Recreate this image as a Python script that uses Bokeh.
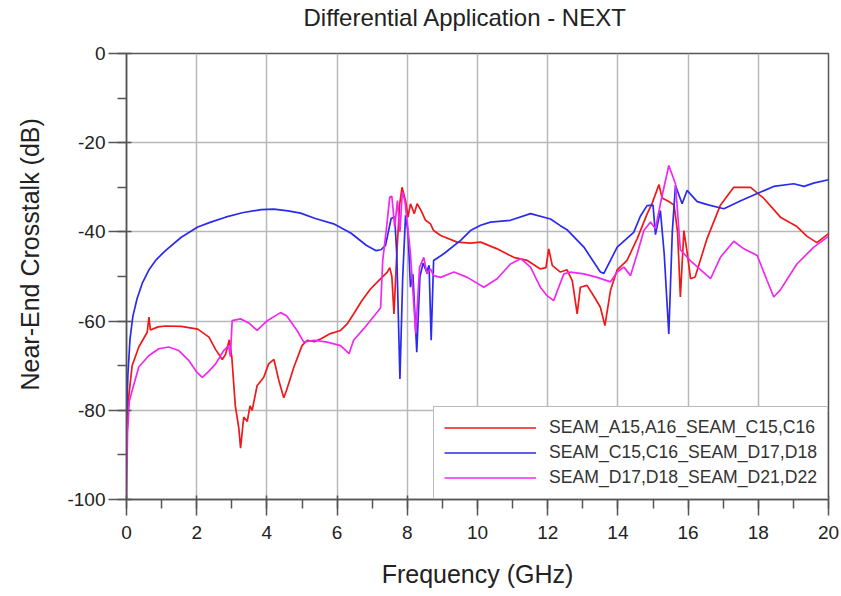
from bokeh.plotting import figure
from bokeh.models import Range1d, SingleIntervalTicker, CustomJSTickFormatter, Title
from bokeh.embed import file_html
from bokeh.resources import INLINE

labels = ["SEAM_A15,A16_SEAM_C15,C16", "SEAM_C15,C16_SEAM_D17,D18", "SEAM_D17,D18_SEAM_D21,D22"]

red_f = [0, 0.05, 0.16, 0.35, 0.59, 0.64, 0.68, 0.9, 1.11, 1.56, 2.03, 2.35, 2.54, 2.73, 2.82, 2.93,
         3.0, 3.1, 3.2, 3.25, 3.34, 3.44, 3.52, 3.58, 3.72, 3.91, 4.05, 4.2, 4.34, 4.48, 4.56, 4.77,
         5.0, 5.15, 5.35, 5.53, 5.81, 6.1, 6.3, 6.47, 6.7, 6.95, 7.2, 7.43, 7.5, 7.56, 7.62, 7.7,
         7.78, 7.85, 7.95, 8.02, 8.09, 8.2, 8.28, 8.38, 8.52, 8.66, 8.75, 8.95, 9.42, 9.8, 10.09,
         10.56, 11.03, 11.42, 11.79, 11.95, 12.03, 12.13, 12.36, 12.55, 12.7, 12.84, 12.93, 13.12,
         13.36, 13.5, 13.63, 13.79, 13.98, 14.26, 14.55, 14.83, 14.98, 15.17, 15.26, 15.45, 15.6,
         15.7, 15.78, 15.88, 15.98, 16.07, 16.2, 16.54, 16.92, 17.3, 17.78, 18.16, 18.63, 19.1,
         19.39, 19.67, 20.0]
red_db = [-88, -78, -70, -65.8, -62.5, -59.1, -62, -61.3, -61.1, -61.2, -61.8, -63.6, -66.4, -68.6,
          -67.5, -64.2, -68, -79, -84, -88.5, -81.5, -82.5, -79, -80, -74.5, -72.6, -69.6, -68.6,
          -73.3, -77.2, -75.5, -70.3, -65.5, -64.3, -64.6, -64, -62.8, -62.1, -60.5, -58.4, -55.5,
          -52.8, -50.8, -49, -48, -50, -58.4, -45, -34, -30, -33, -36.7, -33.7, -35.9, -33.7, -35,
          -37.4, -38.2, -39.7, -40.8, -42.3, -42.5, -42.3, -43.8, -45.7, -46.4, -48.3, -48, -43.8,
          -47.5, -49, -48.5, -50.9, -58.4, -52.4, -52, -55, -56.9, -61, -53.1, -48.5, -46.4, -41.5,
          -36, -33.5, -29.4, -32.4, -33.2, -34, -40, -54.6, -39.7, -45, -50.5, -50.1, -41.5, -34,
          -30, -30, -32.5, -36.7, -38.8, -41, -42.4, -40.4]

blue_f = [0, 0.04, 0.1, 0.18, 0.3, 0.45, 0.64, 0.85, 1.11, 1.56, 2.03, 2.4, 2.82, 3.3, 3.84, 4.2,
          4.6, 4.96, 5.38, 5.9, 6.4, 6.83, 7.11, 7.25, 7.38, 7.46, 7.54, 7.64, 7.7, 7.79, 7.87, 7.95,
          8.02, 8.09, 8.16, 8.27, 8.36, 8.45, 8.55, 8.62, 8.68, 8.75, 9.04, 9.52, 9.8, 10.09, 10.37,
          10.94, 11.51, 12.08, 12.36, 12.55, 13.03, 13.5, 13.6, 13.98, 14.45, 14.64, 14.83, 15.0,
          15.07, 15.21, 15.32, 15.45, 15.55, 15.64, 15.83, 15.97, 16.26, 16.6, 17.02, 17.5, 17.97,
          18.44, 19.01, 19.3, 19.6, 20.0]
blue_db = [-82, -72, -64, -59, -55, -51.5, -48.5, -46.2, -44.2, -41.2, -38.9, -37.8, -36.7, -35.7,
           -35.0, -34.9, -35.3, -35.8, -37, -38.2, -40.3, -43, -44.2, -44, -43, -40, -37, -36.6, -45,
           -73, -50, -36.3, -40, -52.4, -49.5, -67, -50, -47, -49, -47.5, -64.3, -46.4, -44.9, -41.9,
           -39.7, -38.5, -37.8, -37.4, -35.9, -37.1, -38.6, -39.5, -43.4, -49.0, -49.3, -43.4, -40.1,
           -36.5, -34.1, -34, -40.6, -35.2, -45, -62.9, -40, -29.6, -33.7, -30.7, -33.2, -34, -34.8,
           -33, -31.4, -29.8, -29.2, -29.8, -29, -28.3]

mag_f = [0, 0.03, 0.08, 0.16, 0.35, 0.64, 0.92, 1.2, 1.49, 1.77, 2.01, 2.16, 2.35, 2.54, 2.77, 2.91,
         2.96, 3.01, 3.25, 3.5, 3.72, 4.01, 4.39, 4.56, 4.86, 5.05, 5.34, 5.72, 6.1, 6.34, 6.47,
         6.76, 7.14, 7.24, 7.3, 7.41, 7.5, 7.56, 7.64, 7.72, 7.79, 7.86, 7.93, 8.0, 8.09, 8.24,
         8.35, 8.47, 8.56, 8.66, 8.75, 8.95, 9.33, 9.71, 10.18, 10.56, 10.94, 11.23, 11.51, 11.79,
         11.98, 12.17, 12.3, 12.46, 12.65, 13.03, 13.41, 13.79, 13.98, 14.17, 14.36, 14.55, 14.74,
         14.93, 15.07, 15.21, 15.45, 15.64, 15.78, 16.07, 16.64, 16.92, 17.3, 17.59, 17.97, 18.25,
         18.44, 18.63, 19.1, 19.58, 20.0]
mag_db = [-100, -85, -78, -75.6, -70.3, -67.7, -66.2, -65.8, -66.6, -68.8, -71.5, -72.6, -71.2,
          -69.6, -66.6, -65.5, -68, -59.9, -59.5, -60.5, -62.1, -59.9, -58.1, -58.8, -62.1, -64.7,
          -64.3, -64.7, -65.5, -67.3, -64.3, -61.7, -58, -57, -46.4, -38.9, -32.2, -32, -38.9, -33,
          -40, -31, -33, -38, -44.9, -62.8, -47.9, -45.7, -49.4, -48.3, -49.8, -50.2, -49, -50.2,
          -52.4, -50.5, -47.2, -46, -47.9, -52.4, -54.3, -55.4, -52.7, -49.4, -49, -49.4, -50.2,
          -51.2, -49, -47.9, -49.8, -44.9, -39.7, -37.8, -39.3, -33.7, -25.1, -29.2, -44, -46.5,
          -50.5, -45.7, -42.1, -43.8, -45.3, -50.9, -54.6, -53, -47.2, -43.4, -41]

TITLE = "Differential Application - NEXT"
XLABEL = "Frequency (GHz)"
YLABEL = "Near-End Crosstalk (dB)"

FONT = "Liberation Sans"
TXT = "#222222"

p = figure(width=841, height=596, output_backend="svg", toolbar_location=None,
           x_range=Range1d(0, 20), y_range=Range1d(-100, 0), title_location=None,
           min_border_left=126, min_border_right=13, min_border_top=53, min_border_bottom=97)
p.frame_width = 702
p.frame_height = 446

# spacer + title above the frame
p.add_layout(Title(text=" ", text_font_size="1px", standoff=20), "above")
p.add_layout(Title(text=TITLE, text_font=FONT, text_font_size="24px", text_font_style="normal",
                   text_color=TXT, align="left", offset=177, standoff=0), "above")

p.line(red_f, red_db, color="#f01818", line_width=1.7, legend_label=labels[0])
p.line(blue_f, blue_db, color="#2a2af0", line_width=1.7, legend_label=labels[1])
p.line(mag_f, mag_db, color="#f028f0", line_width=1.7, legend_label=labels[2])

p.xaxis.ticker = SingleIntervalTicker(interval=2, num_minor_ticks=2)
p.yaxis.ticker = SingleIntervalTicker(interval=20, num_minor_ticks=2)
p.xgrid.ticker = SingleIntervalTicker(interval=2)
p.ygrid.ticker = SingleIntervalTicker(interval=20)
p.yaxis.formatter = CustomJSTickFormatter(code="return tick.toFixed(0);")
p.xaxis.formatter = CustomJSTickFormatter(code="return tick.toFixed(0);")

# spacer + y-axis title left of the y axis
p.add_layout(Title(text=" ", text_font_size="1px", standoff=18), "left")
p.add_layout(Title(text=YLABEL, text_font=FONT, text_font_size="25px", text_font_style="normal",
                   text_color=TXT, align="left", offset=109, standoff=0), "left")

for ax in (p.xaxis[0], p.yaxis[0]):
    ax.axis_line_color = "#555555"
    ax.axis_line_width = 1.5
    ax.major_tick_line_color = "#555555"
    ax.major_tick_line_width = 1.5
    ax.minor_tick_line_color = "#555555"
    ax.minor_tick_line_width = 1.5
    ax.major_label_text_font = FONT
    ax.major_label_text_font_size = "19px"
    ax.major_label_text_color = TXT
    ax.axis_label_text_font = FONT
    ax.axis_label_text_font_size = "25px"
    ax.axis_label_text_font_style = "normal"
    ax.axis_label_text_color = TXT

p.xaxis.axis_label = XLABEL
p.xaxis.major_tick_out = 16
p.xaxis.major_tick_in = 4
p.xaxis.minor_tick_out = 9
p.xaxis.minor_tick_in = 0
p.xaxis.major_label_standoff = 10
p.xaxis.axis_label_standoff = 18
p.yaxis.major_tick_out = 18
p.yaxis.major_tick_in = 5
p.yaxis.minor_tick_out = 9
p.yaxis.minor_tick_in = 0
p.yaxis.major_label_standoff = 3

p.xgrid.grid_line_color = "#b8b8b8"
p.ygrid.grid_line_color = "#b8b8b8"
p.xgrid.grid_line_width = 1.5
p.ygrid.grid_line_width = 1.5

p.outline_line_color = "#555555"
p.outline_line_width = 1.5

lg = p.legend[0]
lg.location = "bottom_right"
lg.margin = 0
lg.padding = 10
lg.spacing = 4
lg.label_height = 21
lg.glyph_height = 21
lg.glyph_width = 92
lg.label_standoff = 13
lg.label_text_font = FONT
lg.label_text_font_size = "17.6px"
lg.label_text_color = "#333333"
lg.border_line_color = "#777777"
lg.border_line_width = 1
lg.background_fill_alpha = 1.0

open("out.html", "w").write(file_html(p, INLINE))
